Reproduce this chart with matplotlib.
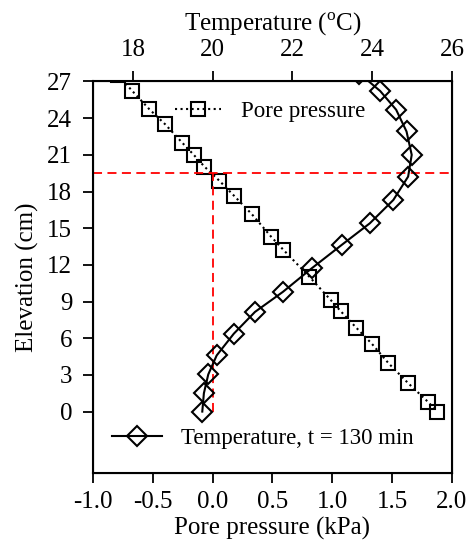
import numpy as np
import matplotlib
matplotlib.use('Agg')
import matplotlib.pyplot as plt

plt.rcParams["font.family"] = "Liberation Serif"
plt.rcParams["mathtext.fontset"] = "custom"
plt.rcParams["mathtext.rm"] = "Liberation Serif"
plt.rcParams.update({'font.size': 18})

# pore pressure profile (kPa vs cm)
pp_kpa = [-0.79, -0.675, -0.531, -0.397, -0.255, -0.160, -0.069, 0.057, 0.180, 0.328,
          0.489, 0.589, 0.809, 0.988, 1.071, 1.199, 1.330, 1.469, 1.631, 1.803, 1.873]
pp_elev = [27.5, 26.26, 24.75, 23.5, 22.0, 21.02, 20.04, 18.87, 17.64, 16.14,
           14.30, 13.25, 11.02, 9.11, 8.20, 6.87, 5.55, 3.96, 2.35, 0.76, 0.0]

# temperature profile, t = 130 min
temp_c = [23.68, 24.2, 24.60, 24.86, 24.99, 24.90, 24.53, 23.94, 23.23, 22.48,
          21.76, 21.06, 20.53, 20.10, 19.89, 19.78, 19.74]
temp_elev = [27.65, 26.22, 24.69, 22.91, 21.0, 19.22, 17.31, 15.40, 13.62, 11.71,
             9.79, 8.15, 6.37, 4.59, 3.04, 1.50, 0.0]

ref_elev = 19.5
ref_pp = 0.0

fig = plt.figure(figsize=(4.73, 5.48), dpi=100)
ax = fig.add_axes([0.1966, 0.1374, 0.759, 0.7139])

ax.plot(pp_kpa, pp_elev, color='k', linestyle=':', linewidth=1.5, marker='s',
        markersize=10, markerfacecolor='none', markeredgecolor='k', markeredgewidth=1.5,
        label='Pore pressure')
ax.plot([ref_pp, ref_pp], [0, ref_elev], color='red', linestyle='--', linewidth=1.3, dashes=(5, 3))
ax.axhline(ref_elev, color='red', linestyle='--', linewidth=1.3, dashes=(5, 3))

ax.set_xlim(-1.0, 2.0)
ax.set_ylim(-5, 27)
ax.set_xticks(np.arange(-1.0, 2.01, 0.5))
ax.set_xticklabels(['%.1f' % v for v in np.arange(-1.0, 2.01, 0.5)])
ax.set_yticks(np.arange(0, 28, 3))
ax.set_xlabel('Pore pressure (kPa)', labelpad=3)
ax.set_ylabel('Elevation (cm)', labelpad=6)
ax.tick_params(axis='both', direction='out', length=7, width=1.3)
ax.tick_params(axis='x', pad=6)
ax.tick_params(axis='y', pad=8)
for s in ax.spines.values():
    s.set_linewidth(1.5)

ax2 = ax.twiny()
ax2.plot(temp_c, temp_elev, color='k', linestyle='-', linewidth=1.5, marker='D',
         markersize=10, markerfacecolor='none', markeredgecolor='k', markeredgewidth=1.5,
         label='Temperature, t = 130 min')
ax2.set_xlim(17, 26)
ax2.set_xticks([18, 20, 22, 24, 26])
ax2.set_xlabel('Temperature ($^{\\rm o}$C)', labelpad=6)
ax2.tick_params(axis='x', direction='out', length=7, width=1.3, pad=8)

ax.legend(loc='center left', bbox_to_anchor=(0.228, 0.923), frameon=False, fontsize=16.5,
          handlelength=2.0, handletextpad=0.87, borderpad=0, borderaxespad=0)
ax2.legend(loc='center left', bbox_to_anchor=(0.053, 0.088), frameon=False, fontsize=16.5,
           handlelength=2.16, handletextpad=0.87, borderpad=0, borderaxespad=0)

plt.savefig('out.png', dpi=100)
